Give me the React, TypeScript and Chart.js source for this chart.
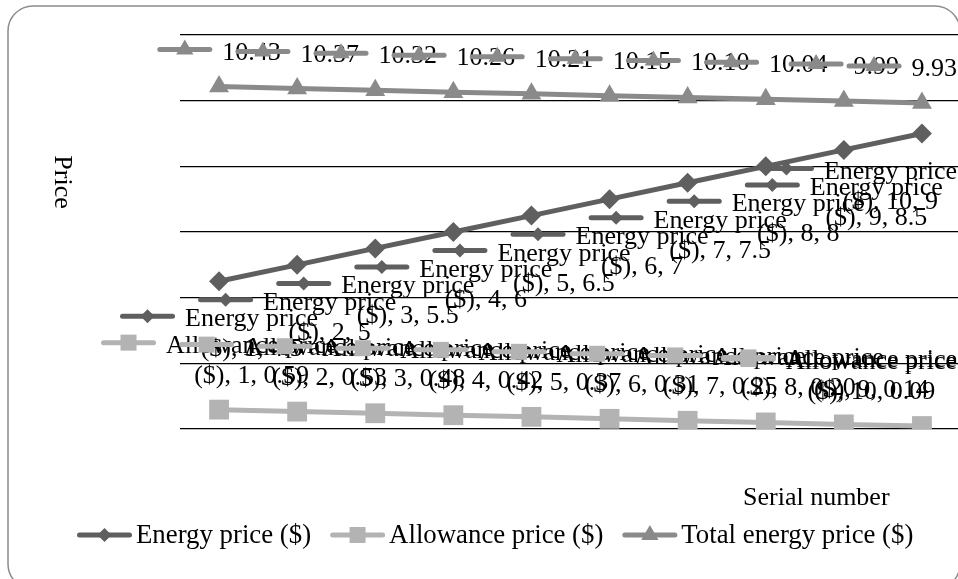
import React, { useEffect, useRef } from 'react';
import { Chart, registerables } from 'chart.js';

Chart.register(...registerables);

// ---- data ----
const serialNumbers = ['1', '2', '3', '4', '5', '6', '7', '8', '9', '10'];
const energyPrice = [4.5, 5, 5.5, 6, 6.5, 7, 7.5, 8, 8.5, 9];
const allowancePrice = [0.59, 0.53, 0.48, 0.42, 0.37, 0.31, 0.25, 0.2, 0.14, 0.09];
const totalEnergyPrice = [10.43, 10.37, 10.32, 10.26, 10.21, 10.15, 10.1, 10.04, 9.99, 9.93];
const seriesNames = ['Energy price ($)', 'Allowance price ($)', 'Total energy price ($)'];
const yMin = 0;
const yMax = 12;
const yStep = 2;
const xTitle = 'Serial number';
const yTitle = 'Price';

// ---- styles ----
const FONT = '26px "Liberation Serif", "Times New Roman", serif';
const LEGEND_FONT = '26.8px "Liberation Serif", "Times New Roman", serif';
const COLORS = ['#5f5f5f', '#b3b3b3', '#8a8a8a'];
const MARKERS = ['rectRot', 'rect', 'triangle'];
const KEY_MARKER = [7, 8, 10];
const KEY_W = 55;
const LINE_H = 30;
const VISIBLE_W = 958;

function drawMarker(ctx: CanvasRenderingContext2D, style: string, x: number, y: number, s: number, color: string) {
  ctx.fillStyle = color;
  ctx.beginPath();
  if (style === 'rectRot') {
    ctx.moveTo(x - s, y);
    ctx.lineTo(x, y - s);
    ctx.lineTo(x + s, y);
    ctx.lineTo(x, y + s);
  } else if (style === 'rect') {
    ctx.rect(x - s, y - s, 2 * s, 2 * s);
  } else {
    ctx.moveTo(x, y - s);
    ctx.lineTo(x + s * 0.866, y + s * 0.5);
    ctx.lineTo(x - s * 0.866, y + s * 0.5);
  }
  ctx.closePath();
  ctx.fill();
}

// legend key: thick line with the series marker in the middle
function drawKey(ctx: CanvasRenderingContext2D, series: number, cx: number, cy: number) {
  ctx.save();
  ctx.strokeStyle = COLORS[series];
  ctx.lineWidth = 5;
  ctx.lineCap = 'round';
  ctx.beginPath();
  ctx.moveTo(cx - KEY_W / 2 + 2.5, cy);
  ctx.lineTo(cx + KEY_W / 2 - 2.5, cy);
  ctx.stroke();
  drawMarker(ctx, MARKERS[series], cx, cy, KEY_MARKER[series], COLORS[series]);
  ctx.restore();
}

const shortName = (name: string) => name.replace(' ($)', '');

function labelLines(series: number, idx: number): string[] {
  if (series === 0) {
    return [shortName(seriesNames[0]), `($), ${serialNumbers[idx]}, ${energyPrice[idx]}`];
  }
  if (series === 1) {
    return [shortName(seriesNames[1]), `($), ${serialNumbers[idx]}, ${allowancePrice[idx].toFixed(2)}`];
  }
  return [totalEnergyPrice[idx].toFixed(2)];
}

const framePlugin = {
  id: 'frame',
  beforeDraw(chart: any) {
    const ctx: CanvasRenderingContext2D = chart.ctx;
    ctx.save();
    ctx.fillStyle = '#ffffff';
    ctx.fillRect(0, 0, chart.width, chart.height);
    ctx.strokeStyle = '#8c8c8c';
    ctx.lineWidth = 1.5;
    ctx.beginPath();
    (ctx as any).roundRect(8, 6, 952, 583, 25);
    ctx.stroke();
    ctx.restore();
  },
};

const pointLabelPlugin = {
  id: 'pointLabels',
  afterDatasetsDraw(chart: any) {
    const ctx: CanvasRenderingContext2D = chart.ctx;
    ctx.save();
    ctx.font = FONT;
    ctx.fillStyle = '#000';
    ctx.textAlign = 'center';
    ctx.textBaseline = 'alphabetic';
    const placement = ['below', 'above', 'above'];
    for (let s = 0; s < 3; s++) {
      const meta = chart.getDatasetMeta(s);
      meta.data.forEach((pt: any, j: number) => {
        const lines = labelLines(s, j);
        const tw = Math.max(...lines.map((l) => ctx.measureText(l).width));
        const gap = 10;
        const w = KEY_W + gap + tw;
        let left = pt.x - w / 2;
        if (left + w > VISIBLE_W - 1) left = VISIBLE_W - 1 - w;
        if (left < 10) left = 10;
        const textCx = left + KEY_W + gap + tw / 2;
        const first =
          placement[s] === 'above' ? pt.y - 27 - (lines.length - 1) * LINE_H : pt.y + 45;
        drawKey(ctx, s, left + KEY_W / 2, first - 10);
        ctx.fillStyle = '#000';
        lines.forEach((l, li) => ctx.fillText(l, textCx, first + li * LINE_H));
      });
    }
    ctx.restore();
  },
};

const titleLegendPlugin = {
  id: 'titleLegend',
  afterDraw(chart: any) {
    const ctx: CanvasRenderingContext2D = chart.ctx;
    const area = chart.chartArea;
    ctx.save();
    ctx.font = FONT;
    ctx.fillStyle = '#000';
    ctx.textBaseline = 'alphabetic';

    // x axis title
    ctx.textAlign = 'left';
    ctx.fillText(xTitle, area.right - 218, area.bottom + 76);

    // y axis title, reading top to bottom
    ctx.save();
    ctx.translate(55, (area.top + area.bottom) / 2 - 50);
    ctx.rotate(Math.PI / 2);
    ctx.textAlign = 'center';
    ctx.fillText(yTitle, 0, 0);
    ctx.restore();

    // legend
    ctx.font = LEGEND_FONT;
    const keyGap = 4;
    const itemGap = 19;
    const widths = seriesNames.map((n) => ctx.measureText(n).width);
    let x = 77;
    const base = area.bottom + 114;
    ctx.textAlign = 'left';
    seriesNames.forEach((n, i) => {
      drawKey(ctx, i, x + KEY_W / 2, base - 8);
      ctx.fillStyle = '#000';
      ctx.fillText(n, x + KEY_W + keyGap, base);
      x += KEY_W + keyGap + widths[i] + itemGap;
    });
    ctx.restore();
  },
};

export default function App() {
  const canvasRef = useRef<HTMLCanvasElement | null>(null);

  useEffect(() => {
    if (!canvasRef.current) return;
    const values = [energyPrice, allowancePrice, totalEnergyPrice];
    const chart = new Chart(canvasRef.current, {
      type: 'line',
      data: {
        labels: serialNumbers,
        datasets: values.map((v, i) => ({
          label: seriesNames[i],
          data: v,
          borderColor: COLORS[i],
          backgroundColor: COLORS[i],
          borderWidth: 5,
          pointStyle: MARKERS[i] as any,
          pointRadius: [10, 14, 11.5][i],
          pointBorderWidth: 0,
          pointBackgroundColor: COLORS[i],
          tension: 0,
          fill: false,
        })),
      },
      options: {
        responsive: false,
        animation: false,
        events: [],
        layout: { padding: { left: 180, top: 35, right: 9, bottom: 142 } },
        plugins: {
          legend: { display: false },
          tooltip: { enabled: false },
          title: { display: false },
        },
        scales: {
          x: {
            type: 'category',
            offset: true,
            grid: { display: false },
            ticks: { display: false },
            border: { display: false },
          },
          y: {
            min: yMin,
            max: yMax,
            ticks: { stepSize: yStep, display: false },
            grid: { color: '#000', lineWidth: 1.3, drawTicks: false },
            border: { display: false },
          },
        },
      },
      plugins: [framePlugin, pointLabelPlugin, titleLegendPlugin],
    });
    return () => chart.destroy();
  }, []);

  return (
    <div
      style={{
        position: 'fixed',
        left: 0,
        top: 0,
        width: VISIBLE_W,
        height: 579,
        overflow: 'hidden',
        background: '#fff',
      }}
    >
      <canvas ref={canvasRef} width={975} height={579} style={{ display: 'block' }} />
    </div>
  );
}
